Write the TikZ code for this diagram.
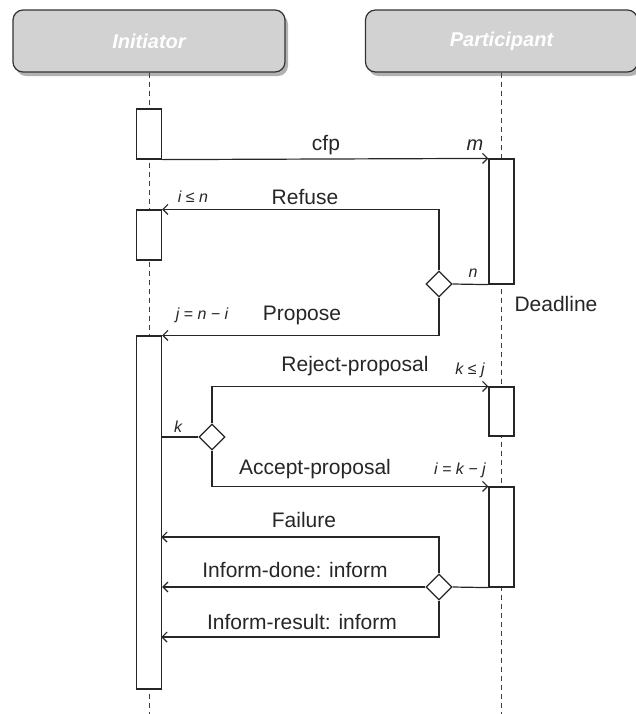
\documentclass[tikz,border=0pt]{standalone}
\usepackage{fontspec}
\setmainfont{Liberation Sans}
\usetikzlibrary{shapes.geometric, arrows.meta, shadows}

\begin{document}
\begin{tikzpicture}[
    x=0.5pt, y=-0.5pt,
    every node/.style={font=\fontsize{10.5}{12}\selectfont, text=black!85, inner sep=1pt},
    actor/.style={rectangle, draw=black!80, line width=0.6pt, fill=gray!35, rounded corners=5pt, minimum width=136pt, minimum height=31pt, font=\fontsize{10}{12}\selectfont\bfseries\itshape, text=white, drop shadow={shadow xshift=1.5pt, shadow yshift=-2pt, fill=black!60, opacity=0.5}},
    lifeline/.style={dash pattern=on 2.5pt off 2pt, line width=0.5pt, draw=black!75},
    activation/.style={rectangle, draw=black!85, fill=white, line width=0.6pt, minimum width=12.5pt, inner sep=0pt},
    choice/.style={diamond, draw=black!85, fill=white, line width=0.6pt, minimum width=13pt, minimum height=13pt, inner sep=0pt},
    msg/.style={-{Straight Barb[length=2.5pt, width=5pt]}, line width=0.6pt, draw=black!85},
    link/.style={line width=0.6pt, draw=black!85},
    var/.style={font=\fontsize{8}{9.6}\selectfont\itshape}
]
\useasboundingbox (0,0) rectangle (636,714);

% Roles
\node[actor] (init) at (149,41) {Initiator};
\node[actor] (part) at (501.5,41) {Participant};

% Lifelines
\coordinate (initend) at (149,714);
\coordinate (partend) at (501.5,714);
\draw[lifeline] (init.south) -- (initend);
\draw[lifeline] (part.south) -- (partend);

% Activations
\node[activation, minimum height=25pt] (ini1) at (149,134) {};
\node[activation, minimum height=25pt] (ini2) at (149,235) {};
\node[activation, minimum height=176.5pt] (ini3) at (149,512.5) {};
\node[activation, minimum height=62.5pt] (par1) at (501.5,221.5) {};
\node[activation, minimum height=24.5pt] (par2) at (501.5,411.5) {};
\node[activation, minimum height=50pt] (par3) at (501.5,537) {};

% Decisions
\node[choice] (answer) at (439,284) {};
\node[choice] (verdict) at (212,437) {};
\node[choice] (outcome) at (439,587) {};

% Messages
\draw[msg] (ini1.south east) -- (par1.north west);
\draw[link] (par1.south west) -- (answer.east);
\draw[msg] (answer.north) |- (ini2.north east);
\draw[msg] (answer.south) |- (ini3.north east);
\draw[link] (verdict.west) -- (verdict.west -| ini3.east);
\draw[msg] (verdict.north) |- (par2.north west);
\draw[msg] (verdict.south) |- (par3.north west);
\draw[link] (par3.south west) -- (outcome.east);
\coordinate (failend) at (161.25,537);
\coordinate (resultend) at (161.25,637);
\draw[msg] (outcome.north) |- (failend);
\draw[msg] (outcome.west) -- (outcome.west -| ini3.east);
\draw[msg] (outcome.south) |- (resultend);

% Labels
\node (cfp) at (326,145) {cfp};
\node[font=\fontsize{10}{12}\selectfont\itshape] (m) at (475,145) {m};
\node[var] (ilen) at (193,197) {i ≤ n};
\node (refusal) at (305,197) {Refuse};
\node[var] (n) at (473,273) {n};
\node[var] (jeq) at (202,315) {j = n − i};
\node (proposal) at (302,315) {Propose};
\node (deadline) at (556,304) {Deadline};
\node (reject) at (355,366) {Reject-proposal};
\node[var] (klej) at (470,370) {k ≤ j};
\node[var] (k) at (178,427) {k};
\node (accept) at (315,469) {Accept-proposal};
\node[var] (ieq) at (460,470) {i = k − j};
\node (failure) at (304,520) {Failure};
\node (done) at (295,570) {Inform-done: inform};
\node (result) at (302,622) {Inform-result: inform};

\end{tikzpicture}
\end{document}
